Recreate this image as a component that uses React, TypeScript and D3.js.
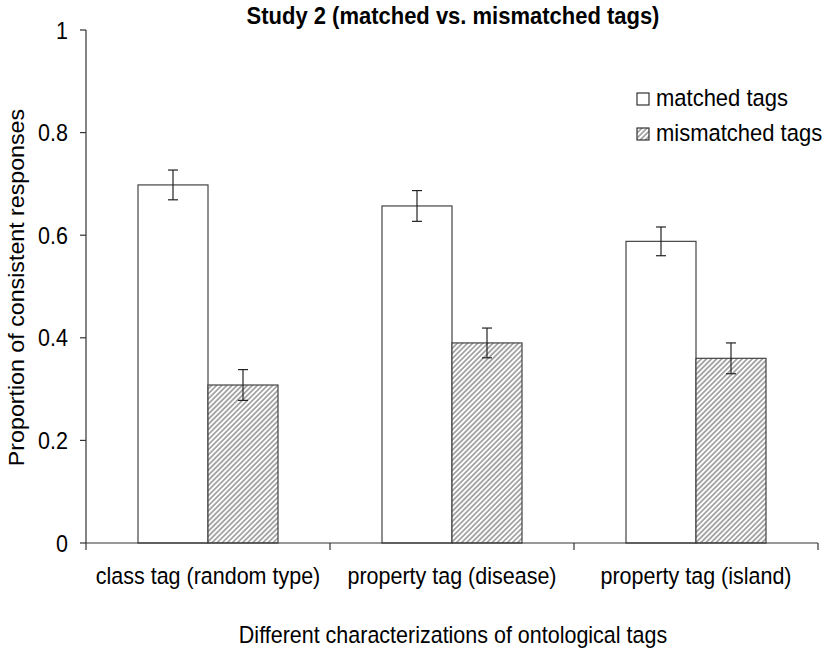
import React from "react";
import * as d3 from "d3";

const categories = ["class tag (random type)", "property tag (disease)", "property tag (island)"];
const seriesNames = ["matched tags", "mismatched tags"];
const matched = [0.698, 0.657, 0.588];
const mismatched = [0.308, 0.39, 0.36];
const matchedErr = [0.029, 0.03, 0.028];
const mismatchedErr = [0.03, 0.029, 0.03];
const yTicks = [0, 0.2, 0.4, 0.6, 0.8, 1];

const W = 825, H = 656;
const M = { left: 86, right: 818, top: 30, bottom: 543 };
const FONT = "Liberation Sans, Arial, sans-serif";
const FS = 21.5;
const SY = 1.08;

function T({ x, y, children, anchor = "start", size = FS, weight = "normal" }: any) {
  return (
    <text transform={`translate(${x},${y}) scale(1,${SY})`} textAnchor={anchor} fontSize={size} fontWeight={weight} fill="#000">
      {children}
    </text>
  );
}

export default function App() {
  const x = d3.scaleBand().domain(categories).range([M.left, M.right]).paddingInner(0).paddingOuter(0);
  const y = d3.scaleLinear().domain([0, 1]).range([M.bottom, M.top]);
  const bw = 70;
  const offs = [x.bandwidth() / 2 - bw, x.bandwidth() / 2];
  const series = [
    { vals: matched, err: matchedErr, fill: "#fff" },
    { vals: mismatched, err: mismatchedErr, fill: "url(#hatch)" },
  ];
  return (
    <svg width={W} height={H} style={{ display: "block", position: "absolute", left: 0, top: 0 }} fontFamily={FONT}>
      <defs>
        <pattern id="hatch" width="3.6" height="3.6" patternUnits="userSpaceOnUse" patternTransform="rotate(45)">
          <rect width="3.6" height="3.6" fill="#fff" />
          <line x1="0.9" y1="0" x2="0.9" y2="3.6" stroke="#9e9e9e" strokeWidth="1.7" />
        </pattern>
      </defs>
      <rect width={W} height={H} fill="#fff" />
      <T x={453} y={23.5} anchor="middle" size={22} weight="bold">Study 2 (matched vs. mismatched tags)</T>
      {/* y axis */}
      <line x1={M.left} x2={M.left} y1={M.top} y2={M.bottom} stroke="#333" strokeWidth={1.2} />
      {yTicks.map((t) => (
        <g key={t}>
          <line x1={M.left - 6} x2={M.left} y1={y(t)} y2={y(t)} stroke="#333" strokeWidth={1.2} />
          <T x={M.left - 18} y={y(t) + 8.5} anchor="end">{String(t)}</T>
        </g>
      ))}
      <text transform={`translate(24,${(M.top + M.bottom) / 2 + 1}) rotate(-90) scale(${SY},1)`} textAnchor="middle" fontSize={FS}>
        Proportion of consistent responses
      </text>
      {/* bars */}
      {categories.map((c, i) => (
        <g key={c}>
          {series.map((s, j) => {
            const bx = (x(c) as number) + offs[j];
            const v = s.vals[i];
            const e = s.err[i];
            const cx = bx + bw / 2;
            return (
              <g key={j}>
                <rect x={bx} y={y(v)} width={bw} height={y(0) - y(v)} fill={s.fill} stroke="#444" strokeWidth={1.2} />
                <line x1={cx} x2={cx} y1={y(v + e)} y2={y(v - e)} stroke="#222" strokeWidth={1.2} />
                <line x1={cx - 5} x2={cx + 5} y1={y(v + e)} y2={y(v + e)} stroke="#222" strokeWidth={1.2} />
                <line x1={cx - 5} x2={cx + 5} y1={y(v - e)} y2={y(v - e)} stroke="#222" strokeWidth={1.2} />
              </g>
            );
          })}
        </g>
      ))}
      {/* x axis */}
      <line x1={M.left} x2={M.right} y1={M.bottom} y2={M.bottom} stroke="#333" strokeWidth={1.2} />
      {[...categories.map((c) => x(c) as number), M.right].map((t, i) => (
        <line key={i} x1={t} x2={t} y1={M.bottom} y2={M.bottom + 7} stroke="#333" strokeWidth={1.2} />
      ))}
      {categories.map((c) => (
        <T key={c} x={(x(c) as number) + x.bandwidth() / 2} y={584} anchor="middle">{c}</T>
      ))}
      <T x={453} y={643} anchor="middle">Different characterizations of ontological tags</T>
      {/* legend */}
      {seriesNames.map((n, i) => (
        <g key={n}>
          <rect x={637} y={93 + i * 35} width={12} height={12} fill={i === 0 ? "#fff" : "url(#hatch)"} stroke="#333" strokeWidth={1.2} />
          <T x={656} y={106 + i * 35} size={22}>{n}</T>
        </g>
      ))}
    </svg>
  );
}
